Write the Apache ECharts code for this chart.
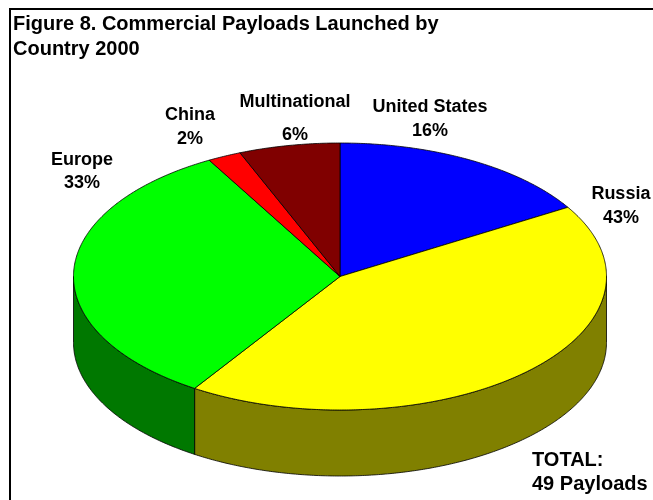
<!DOCTYPE html>
<html>
<head>
<meta charset="utf-8">
<script src="https://cdn.jsdelivr.net/npm/echarts@6/dist/echarts.min.js"></script>
<style>html,body{margin:0;padding:0;background:#fff}#c{width:653px;height:500px}</style>
</head>
<body>
<div id="c"></div>
<script>
const categories = ['United States', 'Russia', 'Europe', 'China', 'Multinational'];
const payloads = [8, 21, 16, 1, 3];
const topColors = ['#0000FF', '#FFFF00', '#00FF00', '#FF0000', '#800000'];
const sideColors = ['#000080', '#808000', '#007800', '#800000', '#400000'];
const titleText = 'Figure 8. Commercial Payloads Launched by\nCountry 2000';
const totalText = 'TOTAL:\n49 Payloads';

// pie geometry (layout)
const PIE = { cx: 340, cy: 276.5, rx: 266.5, ry: 133.5, depth: 66 };
// label anchors, in units of rx / ry relative to pie centre, plus line spacing
const labelLayout = [
  [0.338, -1.180, 23.5],
  [1.054, -0.528, 24],
  [-0.968, -0.783, 23],
  [-0.563, -1.120, 23.5],
  [-0.169, -1.180, 33]
];

const total = payloads.reduce((a, b) => a + b, 0);
const starts = [];
let acc = 0;
payloads.forEach(v => { starts.push(acc / total * Math.PI * 2); acc += v; });

function pt(t, dy) {
  return [PIE.cx + PIE.rx * Math.cos(t), PIE.cy + PIE.ry * Math.sin(t) + (dy || 0)];
}
function arc(t1, t2, dy) {
  const pts = [];
  const n = Math.max(2, Math.ceil(Math.abs(t2 - t1) / (Math.PI / 360)));
  for (let i = 0; i <= n; i++) pts.push(pt(t1 + (t2 - t1) * i / n, dy));
  return pts;
}

const FONT = 'Liberation Sans, Arial, sans-serif';
const chart = echarts.init(document.getElementById('c'), null, { renderer: 'canvas' });
chart.setOption({
  backgroundColor: '#fff',
  animation: false,
  title: {
    text: titleText, left: 13, top: 12, padding: 0,
    textStyle: { fontFamily: FONT, fontWeight: 'bold', fontSize: 20, lineHeight: 25, color: '#000' }
  },
  graphic: [
    { type: 'rect', shape: { x: 10, y: 9, width: 700, height: 600 }, style: { fill: 'none', stroke: '#000', lineWidth: 2 }, z: 100 },
    { type: 'text', x: 532, y: 448, style: { text: totalText, font: 'bold 20px ' + FONT, fill: '#000', lineHeight: 24, verticalAlign: 'top' } }
  ],
  series: [{
    type: 'custom',
    coordinateSystem: 'none',
    data: payloads.map((v, i) => ({ name: categories[i], value: v })),
    renderItem: function (params, api) {
      const i = params.dataIndex;
      const v = api.value(0);
      const th1 = starts[i];
      const th2 = th1 + v / total * Math.PI * 2;
      const t1 = th1 - Math.PI / 2, t2 = th2 - Math.PI / 2;
      const children = [];
      // visible front side: param t in [0, PI]
      const s1 = Math.max(t1, 0), s2 = Math.min(t2, Math.PI);
      if (s2 > s1) {
        const top = arc(s1, s2, 0);
        const bot = arc(s2, s1, PIE.depth);
        children.push({ type: 'polygon', shape: { points: top.concat(bot) },
          style: { fill: sideColors[i], stroke: '#000', lineWidth: 0.8 } });
      }
      children.push({ type: 'polygon', shape: { points: [[PIE.cx, PIE.cy]].concat(arc(t1, t2, 0)) },
        style: { fill: topColors[i], stroke: '#000', lineWidth: 0.8 } });
      const pct = Math.round(v / total * 100) + '%';
      const L = labelLayout[i];
      children.push({ type: 'text', x: PIE.cx + L[0] * PIE.rx, y: PIE.cy + L[1] * PIE.ry,
        style: { text: categories[i] + '\n' + pct, font: 'bold 18px ' + FONT, fill: '#000',
          align: 'center', verticalAlign: 'middle', lineHeight: L[2] } });
      return { type: 'group', children: children };
    }
  }]
});
</script>
</body>
</html>
